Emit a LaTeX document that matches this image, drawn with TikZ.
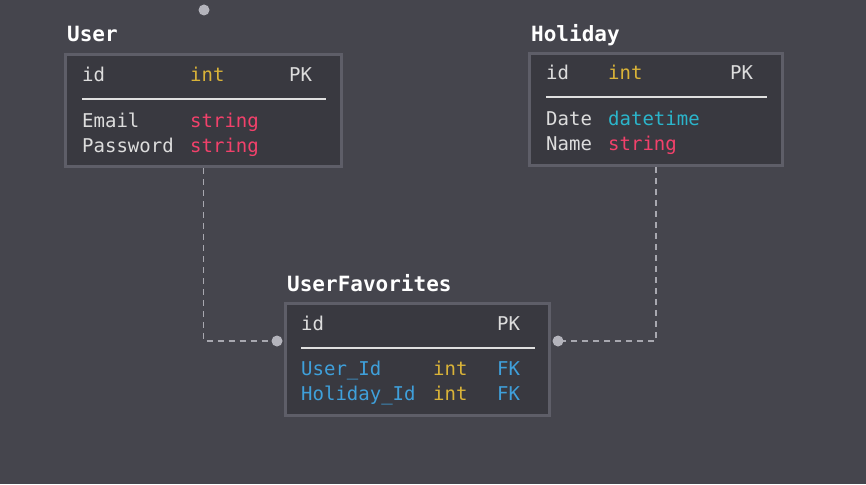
\documentclass[tikz,border=0pt]{standalone}
\usepackage{fontspec}
\setmonofont{DejaVu Sans Mono}
\definecolor{bgc}{HTML}{45454D}
\definecolor{boxc}{HTML}{393940}
\definecolor{edgec}{HTML}{5E5E68}
\definecolor{txtc}{HTML}{DDDDDD}
\definecolor{intc}{HTML}{D9B338}
\definecolor{strc}{HTML}{F2416B}
\definecolor{datec}{HTML}{2BB5CB}
\definecolor{fkc}{HTML}{3FA0DB}
\definecolor{linkc}{HTML}{A8A8B0}
\definecolor{dotc}{HTML}{B4B4BC}
\tikzset{
	table/.style={draw=edgec, fill=boxc, line width=3pt, inner sep=0pt},
	title/.style={anchor=base west, inner sep=0pt, text=white, font=\ttfamily\bfseries\fontsize{21}{24}\selectfont},
	field/.style={anchor=base west, inner sep=0pt, text=txtc, font=\ttfamily\fontsize{19}{22}\selectfont},
	sep/.style={draw=txtc!90, line width=2pt},
	link/.style={draw=linkc, line width=1.8pt, dash pattern=on 6pt off 5pt},
}
\begin{document}
\begin{tikzpicture}[x=1pt, y=-1pt]
	\fill[bgc] (0,0) rectangle (866,484);
	\useasboundingbox (0,0) rectangle (866,484);

	% User
	\node[table, minimum width=276pt, minimum height=112pt] (user) at (203.5,110.5) {};
	\node[title] (usert) at (67,42) {User};
	\node[field] (uid) at (82,82) {id};
	\node[field, text=intc] (uidt) at (190,82) {int};
	\node[field] (uidk) at (289,82) {PK};
	\draw[sep] (82,99) -- (326,99);
	\node[field] (umail) at (82,127) {Email};
	\node[field, text=strc] (umailt) at (190,127) {string};
	\node[field] (upass) at (82,152) {Password};
	\node[field, text=strc] (upasst) at (190,152) {string};

	% Holiday
	\node[table, minimum width=253pt, minimum height=112pt] (holiday) at (656,109.5) {};
	\node[title] (holidayt) at (531,42) {Holiday};
	\node[field] (hid) at (546,80) {id};
	\node[field, text=intc] (hidt) at (608,80) {int};
	\node[field] (hidk) at (730,80) {PK};
	\draw[sep] (546,97) -- (767,97);
	\node[field] (hdate) at (546,125) {Date};
	\node[field, text=datec] (hdatet) at (608,125) {datetime};
	\node[field] (hname) at (546,150) {Name};
	\node[field, text=strc] (hnamet) at (608,150) {string};

	% UserFavorites
	\node[table, minimum width=264pt, minimum height=112pt] (fav) at (417.5,359.5) {};
	\node[title] (favt) at (287,291) {UserFavorites};
	\node[field] (fid) at (301,330) {id};
	\node[field] (fidk) at (497,330) {PK};
	\draw[sep] (301,348) -- (535,348);
	\node[field, text=fkc] (fuser) at (301,375) {User\_Id};
	\node[field, text=intc] (fusert) at (433,375) {int};
	\node[field, text=fkc] (fuserk) at (497,375) {FK};
	\node[field, text=fkc] (fhol) at (301,400) {Holiday\_Id};
	\node[field, text=intc] (fholt) at (433,400) {int};
	\node[field, text=fkc] (fholk) at (497,400) {FK};

	% links
	\coordinate (ldot) at (277,341);
	\coordinate (rdot) at (558,341);
	\coordinate (topdot) at (204,10);
	\draw[link] (user.south) |- (ldot);
	\draw[link] (holiday.south) |- (rdot);
	\fill[dotc] (ldot) circle (5.5pt);
	\fill[dotc] (rdot) circle (5.5pt);
	\fill[dotc] (topdot) circle (5.5pt);
\end{tikzpicture}
\end{document}
